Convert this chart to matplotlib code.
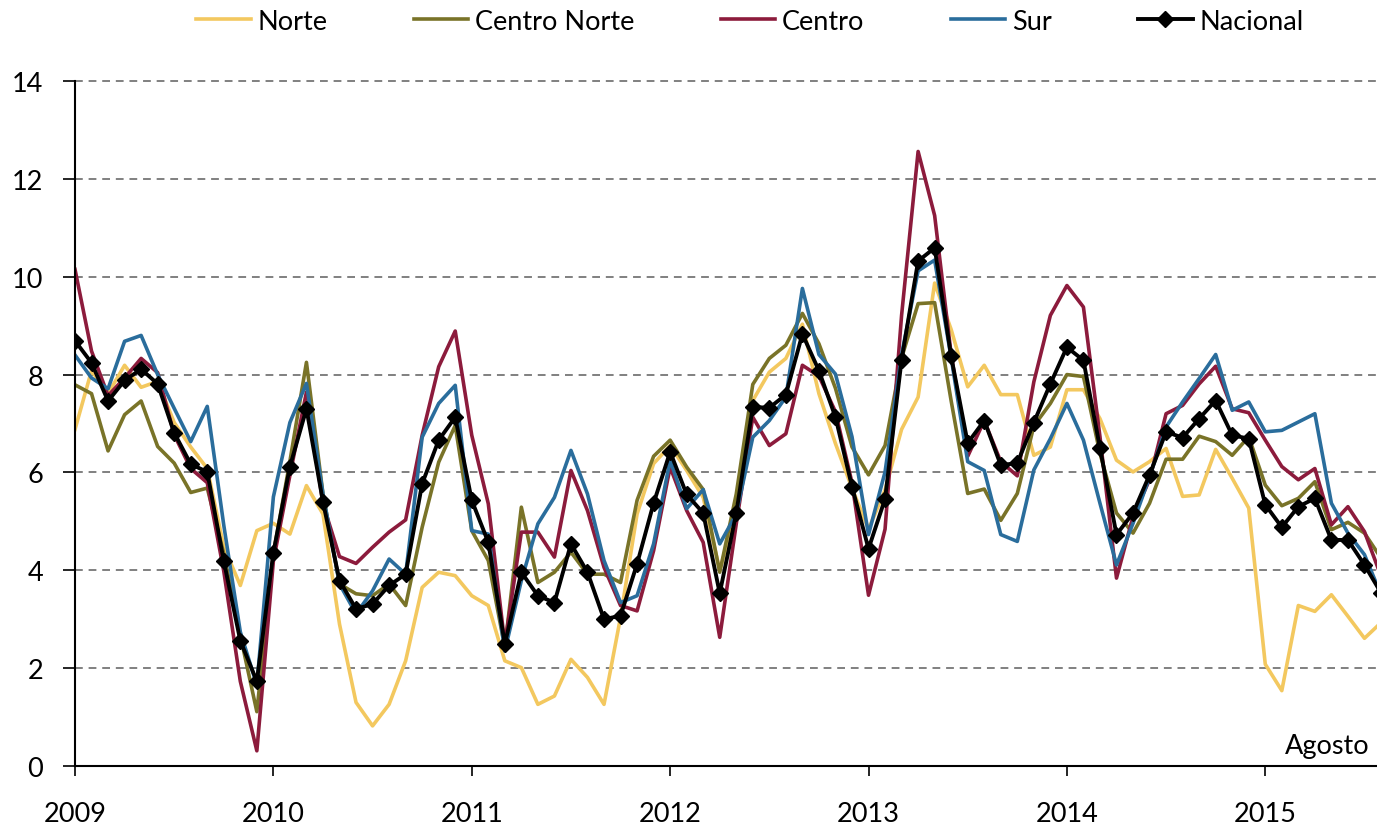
import numpy as np
import matplotlib
matplotlib.use('Agg')
import matplotlib.pyplot as plt

plt.rcParams['font.family'] = ['Lato', 'DejaVu Sans']
plt.rcParams['font.size'] = 19.5

# monthly values, January 2009 - August 2015
norte = [6.88, 8.08, 7.61, 8.19, 7.74, 7.86, 7.02, 6.52, 6.08, 4.48, 3.69, 4.81,
         4.96, 4.74, 5.73, 5.15, 2.90, 1.30, 0.82, 1.26, 2.15, 3.65, 3.96, 3.89,
         3.48, 3.28, 2.15, 2.01, 1.26, 1.43, 2.18, 1.81, 1.26, 3.04, 5.15, 6.18,
         6.55, 6.04, 5.49, 4.00, 5.22, 7.47, 8.05, 8.33, 9.03, 7.61, 6.59, 5.68,
         4.84, 5.64, 6.88, 7.54, 9.87, 8.92, 7.75, 8.19, 7.59, 7.59, 6.35, 6.52,
         7.69, 7.69, 7.10, 6.25, 6.01, 6.22, 6.49, 5.51, 5.54, 6.47, 5.88, 5.27,
         2.08, 1.54, 3.28, 3.16, 3.50, 3.06, 2.61, 2.93]

centro_norte = [7.79, 7.61, 6.44, 7.18, 7.46, 6.53, 6.19, 5.59, 5.68, 4.34, 2.67, 1.11,
                4.34, 6.23, 8.25, 5.56, 3.72, 3.52, 3.48, 3.72, 3.28, 4.88, 6.21, 6.96,
                4.81, 4.20, 2.42, 5.29, 3.75, 3.96, 4.37, 3.92, 3.92, 3.75, 5.43, 6.33,
                6.66, 6.11, 5.65, 3.96, 5.56, 7.80, 8.33, 8.60, 9.25, 8.63, 7.72, 6.52,
                5.95, 6.55, 8.34, 9.45, 9.47, 7.46, 5.57, 5.66, 5.02, 5.57, 6.95, 7.41,
                8.00, 7.96, 6.39, 5.17, 4.76, 5.37, 6.27, 6.27, 6.74, 6.63, 6.35, 6.73,
                5.74, 5.32, 5.47, 5.81, 4.83, 4.98, 4.76, 4.25]

centro = [10.15, 8.48, 7.57, 7.93, 8.33, 8.04, 6.77, 6.08, 5.79, 3.98, 1.73, 0.31,
          4.19, 5.94, 7.64, 5.36, 4.28, 4.14, 4.47, 4.78, 5.03, 6.76, 8.16, 8.89,
          6.76, 5.36, 2.49, 4.78, 4.78, 4.27, 6.04, 5.22, 4.06, 3.28, 3.17, 4.40,
          6.11, 5.22, 4.57, 2.63, 4.95, 7.13, 6.55, 6.79, 8.19, 7.97, 7.24, 5.79,
          3.49, 4.84, 9.21, 12.56, 11.25, 8.41, 6.33, 7.06, 6.22, 5.93, 7.85, 9.21,
          9.82, 9.38, 6.73, 3.84, 5.10, 5.85, 7.20, 7.37, 7.81, 8.17, 7.30, 7.22,
          6.66, 6.12, 5.85, 6.08, 4.93, 5.30, 4.79, 3.88]

sur = [8.40, 7.93, 7.71, 8.68, 8.80, 8.00, 7.31, 6.63, 7.35, 4.92, 2.74, 1.65,
       5.50, 7.02, 7.82, 5.56, 3.72, 3.11, 3.58, 4.23, 3.92, 6.72, 7.41, 7.78,
       4.81, 4.74, 2.35, 3.79, 4.95, 5.49, 6.45, 5.56, 4.20, 3.34, 3.48, 4.54,
       6.25, 5.26, 5.65, 4.54, 5.15, 6.72, 7.06, 7.54, 9.76, 8.41, 8.01, 6.73,
       4.73, 6.01, 8.41, 10.12, 10.34, 8.34, 6.22, 6.04, 4.73, 4.59, 6.05, 6.69,
       7.41, 6.66, 5.37, 4.11, 4.96, 5.91, 6.93, 7.44, 7.92, 8.41, 7.27, 7.44,
       6.83, 6.86, 7.03, 7.20, 5.37, 4.76, 4.32, 3.50]

nacional = [8.69, 8.24, 7.46, 7.88, 8.11, 7.81, 6.81, 6.17, 6.01, 4.19, 2.56, 1.73,
            4.36, 6.12, 7.30, 5.40, 3.79, 3.21, 3.31, 3.69, 3.92, 5.77, 6.66, 7.13,
            5.43, 4.57, 2.49, 3.96, 3.48, 3.34, 4.54, 3.96, 3.00, 3.07, 4.13, 5.37,
            6.42, 5.55, 5.17, 3.53, 5.17, 7.34, 7.32, 7.59, 8.83, 8.08, 7.13, 5.71,
            4.44, 5.46, 8.30, 10.32, 10.59, 8.37, 6.60, 7.06, 6.15, 6.19, 7.02, 7.81,
            8.56, 8.29, 6.50, 4.73, 5.17, 5.95, 6.83, 6.71, 7.10, 7.47, 6.76, 6.69,
            5.34, 4.88, 5.30, 5.47, 4.62, 4.62, 4.11, 3.54]

years = ['2009', '2010', '2011', '2012', '2013', '2014', '2015']

x = np.arange(len(nacional))

fig = plt.figure(figsize=(13.77, 8.28), dpi=100)
ax = fig.add_axes([75/1377, 61/828, 1306/1377, 685/828])

ax.plot(x, norte, color='#F3C85F', lw=2.6, label='Norte')
ax.plot(x, centro_norte, color='#797328', lw=2.6, label='Centro Norte')
ax.plot(x, centro, color='#8C1B3C', lw=2.6, label='Centro')
ax.plot(x, sur, color='#2A6D9C', lw=2.6, label='Sur')
ax.plot(x, nacional, color='black', lw=2.8, marker='D', markersize=8.5, label='Nacional')

ax.set_xlim(0, 79)
ax.set_ylim(0, 14)
ax.set_yticks(np.arange(0, 15, 2))
ax.set_xticks(np.arange(0, 80, 12))
ax.set_xticklabels(years)

ax.yaxis.grid(True, linestyle=(0, (4, 3)), color='#808080', linewidth=1.4)
ax.set_axisbelow(True)
for gl in ax.get_ygridlines():
    gl.set_clip_on(False)

for s in ['top', 'right']:
    ax.spines[s].set_visible(False)
for s in ['left', 'bottom']:
    ax.spines[s].set_linewidth(1.5)

ax.tick_params(axis='y', direction='out', length=9, width=1.2, pad=14)
ax.tick_params(axis='x', direction='out', length=7, width=1.2, pad=18)

fig.text(1370/1377, (828-754)/828, 'Agosto', ha='right', va='baseline')

handles, labels = ax.get_legend_handles_labels()
fig.legend(handles, labels, loc='center', bbox_to_anchor=(750/1377, 1-22/828),
           ncol=5, frameon=False, handlelength=2.0, handletextpad=0.25,
           columnspacing=3.2, borderaxespad=0, borderpad=0)

plt.savefig('out.png', dpi=100)
